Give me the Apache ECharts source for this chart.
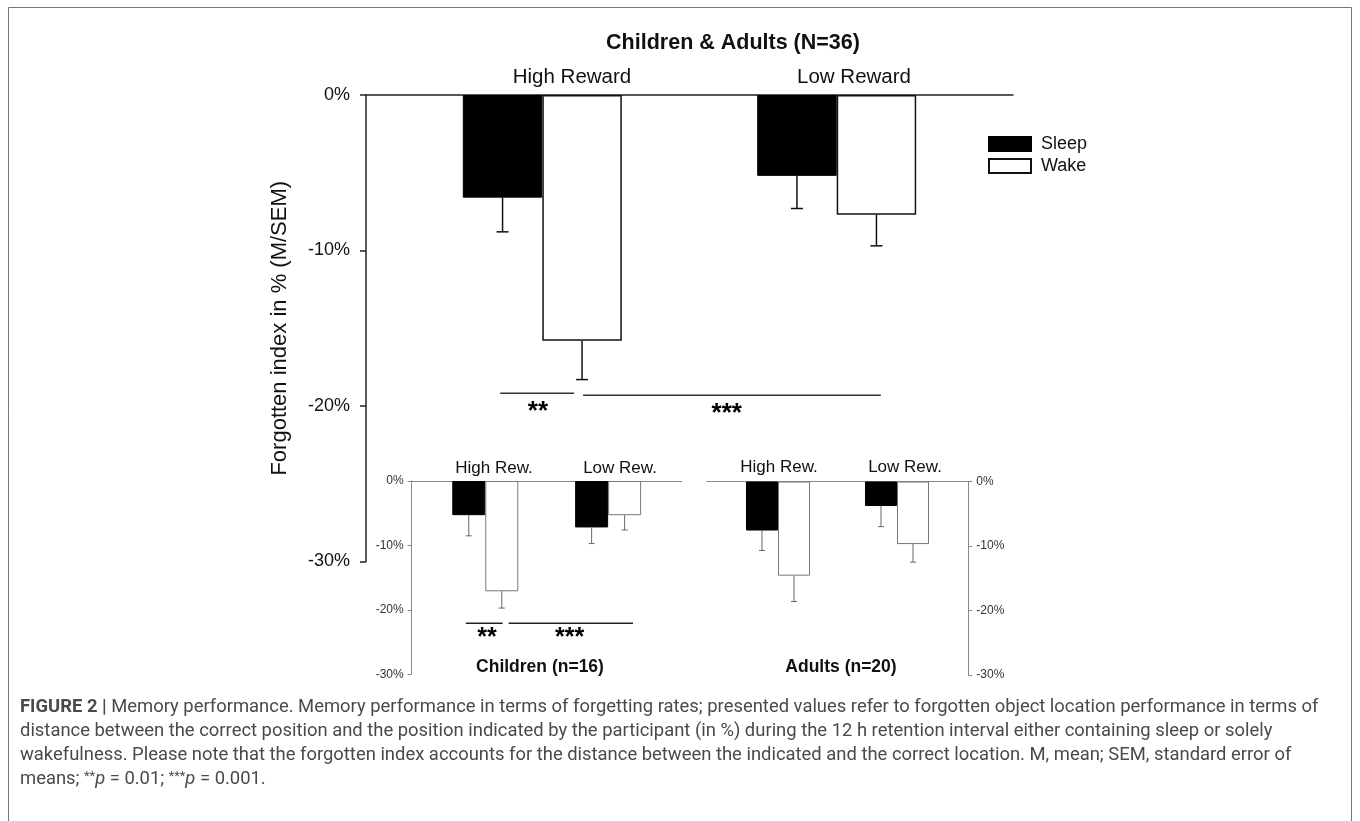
<!DOCTYPE html>
<html><head><meta charset="utf-8">
<script src="https://cdn.jsdelivr.net/npm/echarts@6/dist/echarts.min.js"></script>
<style>html,body{margin:0;padding:0;background:#fff}#c{width:1360px;height:821px}</style>
</head><body><div id="c"></div>
<script>
// ---------------- data ----------------
const groups = ['High Reward', 'Low Reward'];
const insetGroups = ['High Rew.', 'Low Rew.'];
const yTicks = [0, -10, -20, -30];
// Children & Adults (N=36): mean forgotten index (%) and SEM
const allSleep = [-6.6, -5.2];
const allSleepSem = [2.2, 2.1];
const allWake = [-15.8, -7.7];
const allWakeSem = [2.5, 2.0];
// Children (n=16)
const childSleep = [-5.3, -7.2];
const childSleepSem = [3.2, 2.5];
const childWake = [-17.1, -5.3];
const childWakeSem = [2.6, 2.3];
// Adults (n=20)
const adultSleep = [-7.6, -3.8];
const adultSleepSem = [3.1, 3.2];
const adultWake = [-14.6, -9.7];
const adultWakeSem = [4.0, 2.8];
// significance labels
const mainSigLabels = ['**', '***'];
const childSigLabels = ['**', '***'];

// ---------------- layout / annotation (not data) ----------------
const FONT = '"Liberation Sans", Arial, sans-serif';
const MAIN = {left: 366, top: 95, width: 647, height: 466.5, barW: 79.5};
const CHILD = {left: 411.7, top: 481, width: 270, height: 193.5, barW: 33};
const ADULT = {left: 706.7, top: 481.5, width: 261.6, height: 193.5, barW: 32};
// significance bracket geometry in category-band units relative to first category centre
const mainSigGeom = [
  {from: -0.143, to: 0.108, y: -19.18, tx: -0.015},
  {from: 0.1385, to: 1.150, y: -19.31, tx: 0.6265}
];
const childSigGeom = [
  {from: -0.158, to: 0.141, y: -22.06, tx: 0.014},
  {from: 0.190, to: 1.202, y: -22.06, tx: 0.686}
];

function barGrid(g) { // bar grid inset so that group centres sit at 27.25% / 72.75% of axis
  return {left: g.left + 0.045 * g.width, top: g.top, width: 0.91 * g.width, height: g.height,
          containLabel: false, outerBoundsMode: 'none'};
}
function visGrid(g) {
  return {left: g.left, top: g.top, width: g.width, height: g.height, containLabel: false, outerBoundsMode: 'none'};
}

function errSeries(name, xi, yi, vals, sems, side, barW, cap, color, lw) {
  return {
    name, type: 'custom', xAxisIndex: xi, yAxisIndex: yi, z: 6, silent: true,
    data: vals.map((v, i) => [i, v, v - sems[i]]),
    encode: {x: 0, y: [1, 2]},
    renderItem: (params, api) => {
      const i = api.value(0);
      const p1 = api.coord([i, api.value(1)]);
      const p2 = api.coord([i, api.value(2)]);
      const x = p1[0] + side * barW / 2;
      return {type: 'group', children: [
        {type: 'line', shape: {x1: x, y1: p1[1], x2: x, y2: p2[1]}, style: {stroke: color, lineWidth: lw}},
        {type: 'line', shape: {x1: x - cap, y1: p2[1], x2: x + cap, y2: p2[1]}, style: {stroke: color, lineWidth: lw}}
      ]};
    }
  };
}

function sigSeries(name, xi, yi, labels, geom, fontSize, dy, color, lw) {
  return {
    name, type: 'custom', xAxisIndex: xi, yAxisIndex: yi, z: 6, silent: true,
    data: geom.map(g => [0, g.y]),
    encode: {x: 0, y: 1},
    renderItem: (params, api) => {
      const g = geom[params.dataIndex];
      const c0 = api.coord([0, g.y]);
      const band = api.size([1, 0])[0];
      return {type: 'group', children: [
        {type: 'line', shape: {x1: c0[0] + g.from * band, y1: c0[1], x2: c0[0] + g.to * band, y2: c0[1]},
         style: {stroke: color, lineWidth: lw}},
        {type: 'text', style: {text: labels[params.dataIndex], x: c0[0] + g.tx * band, y: c0[1] + dy,
         align: 'center', verticalAlign: 'top', fill: '#000', font: 'bold ' + fontSize + 'px ' + FONT}}
      ]};
    }
  };
}

function yAxisCfg(gi, opts) {
  return Object.assign({
    type: 'value', gridIndex: gi, min: -30, max: 0, interval: 10,
    splitLine: {show: false}
  }, opts);
}

const pct = v => v + '%';

const option = {
  animation: false,
  backgroundColor: '#fff',
  grid: [visGrid(MAIN), barGrid(MAIN), visGrid(CHILD), barGrid(CHILD), visGrid(ADULT), barGrid(ADULT)],
  xAxis: [
    {type: 'category', gridIndex: 0, data: groups, position: 'top',
     axisLine: {lineStyle: {color: '#222', width: 1.5}}, axisTick: {show: false}, axisLabel: {show: false}},
    {type: 'category', gridIndex: 1, data: groups, show: false},
    {type: 'category', gridIndex: 2, data: insetGroups, position: 'top',
     axisLine: {lineStyle: {color: '#888', width: 1}}, axisTick: {show: false}, axisLabel: {show: false}},
    {type: 'category', gridIndex: 3, data: insetGroups, show: false},
    {type: 'category', gridIndex: 4, data: insetGroups, position: 'top',
     axisLine: {lineStyle: {color: '#888', width: 1}}, axisTick: {show: false}, axisLabel: {show: false}},
    {type: 'category', gridIndex: 5, data: insetGroups, show: false}
  ],
  yAxis: [
    yAxisCfg(0, {
      axisLine: {show: true, lineStyle: {color: '#222', width: 1.5}},
      axisTick: {show: true, length: 6, lineStyle: {color: '#222', width: 1.5}},
      axisLabel: {formatter: pct, fontSize: 18, color: '#111', fontFamily: FONT, margin: 16},
      name: 'Forgotten index in % (M/SEM)', nameLocation: 'middle', nameGap: 75, nameRotate: 90,
      nameTextStyle: {fontSize: 22, color: '#111', fontFamily: FONT}
    }),
    yAxisCfg(1, {show: false}),
    yAxisCfg(2, {
      axisLine: {show: true, lineStyle: {color: '#888', width: 1}},
      axisTick: {show: true, length: 4, lineStyle: {color: '#888', width: 1}},
      axisLabel: {formatter: pct, fontSize: 12, color: '#333', fontFamily: FONT, margin: 8}
    }),
    yAxisCfg(3, {show: false}),
    yAxisCfg(4, {
      position: 'right',
      axisLine: {show: true, lineStyle: {color: '#888', width: 1}},
      axisTick: {show: true, length: 4, lineStyle: {color: '#888', width: 1}},
      axisLabel: {formatter: pct, fontSize: 12, color: '#333', fontFamily: FONT, margin: 8}
    }),
    yAxisCfg(5, {show: false})
  ],
  legend: {
    data: ['Sleep', 'Wake'], orient: 'vertical', left: 988, top: 135, padding: 0,
    itemWidth: 42, itemHeight: 14, itemGap: 4, icon: 'rect',
    textStyle: {fontSize: 18, color: '#111', fontFamily: FONT, padding: [0, 0, 0, 5]},
    selectedMode: false
  },
  series: [
    {name: 'Sleep', type: 'bar', xAxisIndex: 1, yAxisIndex: 1, data: allSleep, barWidth: MAIN.barW, barGap: '0%',
     itemStyle: {color: '#000', borderColor: '#000', borderWidth: 1}},
    {name: 'Wake', type: 'bar', xAxisIndex: 1, yAxisIndex: 1, data: allWake, barWidth: MAIN.barW, barGap: '0%',
     itemStyle: {color: '#fff', borderColor: '#111', borderWidth: 1.5}},
    errSeries('errAS', 1, 1, allSleep, allSleepSem, -1, MAIN.barW, 6, '#111', 1.5),
    errSeries('errAW', 1, 1, allWake, allWakeSem, 1, MAIN.barW, 6, '#111', 1.5),
    sigSeries('sigA', 1, 1, mainSigLabels, mainSigGeom, 26, 6, '#333', 1.5),

    {name: 'Sleep children', type: 'bar', xAxisIndex: 3, yAxisIndex: 3, data: childSleep, barWidth: CHILD.barW, barGap: '0%',
     itemStyle: {color: '#000', borderColor: '#000', borderWidth: 1}},
    {name: 'Wake children', type: 'bar', xAxisIndex: 3, yAxisIndex: 3, data: childWake, barWidth: CHILD.barW, barGap: '0%',
     itemStyle: {color: '#fff', borderColor: '#777', borderWidth: 1}},
    errSeries('errCS', 3, 3, childSleep, childSleepSem, -1, CHILD.barW, 3, '#666', 1),
    errSeries('errCW', 3, 3, childWake, childWakeSem, 1, CHILD.barW, 3, '#666', 1),
    sigSeries('sigC', 3, 3, childSigLabels, childSigGeom, 25, 2, '#222', 1.5),

    {name: 'Sleep adults', type: 'bar', xAxisIndex: 5, yAxisIndex: 5, data: adultSleep, barWidth: ADULT.barW, barGap: '0%',
     itemStyle: {color: '#000', borderColor: '#000', borderWidth: 1}},
    {name: 'Wake adults', type: 'bar', xAxisIndex: 5, yAxisIndex: 5, data: adultWake, barWidth: ADULT.barW, barGap: '0%',
     itemStyle: {color: '#fff', borderColor: '#777', borderWidth: 1}},
    errSeries('errDS', 5, 5, adultSleep, adultSleepSem, -1, ADULT.barW, 3, '#666', 1),
    errSeries('errDW', 5, 5, adultWake, adultWakeSem, 1, ADULT.barW, 3, '#666', 1)
  ]
};

// caption text
const capPlain = [
  ['FIGURE 2 |', ' Memory performance. Memory performance in terms of forgetting rates; presented values refer to forgotten object location performance in terms of'],
  ['', 'distance between the correct position and the position indicated by the participant (in %) during the 12 h retention interval either containing sleep or solely'],
  ['', 'wakefulness. Please note that the forgotten index accounts for the distance between the indicated and the correct location. M, mean; SEM, standard error of']
];
const capTargets = [1316, 1242, 1268];
const capLines = [
  '{b|FIGURE 2 |} Memory performance. Memory performance in terms of forgetting rates; presented values refer to forgotten object location performance in terms of',
  'distance between the correct position and the position indicated by the participant (in %) during the 12 h retention interval either containing sleep or solely',
  'wakefulness. Please note that the forgotten index accounts for the distance between the indicated and the correct location. M, mean; SEM, standard error of',
  'means; {s|**}{i|p} = 0.01; {s|***}{i|p} = 0.001.'
];
const CAP_FONT = 'Roboto, "Liberation Sans", sans-serif';
// fit caption font size so the three full lines span roughly the caption width
const mctx = document.createElement('canvas').getContext('2d');
let wSum = 0;
capPlain.forEach(([b, t]) => {
  mctx.font = 'bold 16px ' + CAP_FONT; wSum += b ? mctx.measureText(b).width : 0;
  mctx.font = '16px ' + CAP_FONT; wSum += mctx.measureText(t).width;
});
const capSize = 16 * capTargets.reduce((a, b) => a + b, 0) / wSum;

const capRich = {
  b: {fontWeight: 'bold', color: '#111', fontSize: capSize, fontFamily: CAP_FONT},
  s: {fontSize: capSize * 0.7, color: '#4a4a4a', fontFamily: CAP_FONT, verticalAlign: 'top'},
  i: {fontStyle: 'italic', color: '#4a4a4a', fontSize: capSize, fontFamily: CAP_FONT}
};

const gtext = (text, x, y, size, weight, align) => ({
  type: 'text', x, y, silent: true,
  style: {text, fill: '#111', font: (weight || 'normal') + ' ' + size + 'px ' + FONT,
          textAlign: align || 'center', textVerticalAlign: 'middle'}
});

option.graphic = [
  {type: 'rect', shape: {x: 8.5, y: 7.5, width: 1343, height: 830}, style: {fill: 'none', stroke: '#777', lineWidth: 1}, silent: true},
  gtext('Children & Adults (N=36)', 733, 43, 21.5, 'bold'),
  gtext(groups[0], 572, 77, 20.5),
  gtext(groups[1], 854, 77, 20.5),
  gtext(insetGroups[0], 494, 468, 17),
  gtext(insetGroups[1], 620, 468, 17),
  gtext(insetGroups[0], 779, 467, 17),
  gtext(insetGroups[1], 905, 467, 17),
  gtext('Children (n=16)', 540, 667, 17.5, 'bold'),
  gtext('Adults (n=20)', 841, 667, 17.5, 'bold')
].concat(capLines.map((t, k) => ({
  type: 'text', x: 20, y: 707 + 24 * k, silent: true,
  style: {text: t, fill: '#4a4a4a', font: capSize + 'px ' + CAP_FONT, textAlign: 'left', textVerticalAlign: 'middle', rich: capRich}
})));

const chart = echarts.init(document.getElementById('c'), null, {renderer: 'canvas'});
chart.setOption(option);
</script>
</body></html>
